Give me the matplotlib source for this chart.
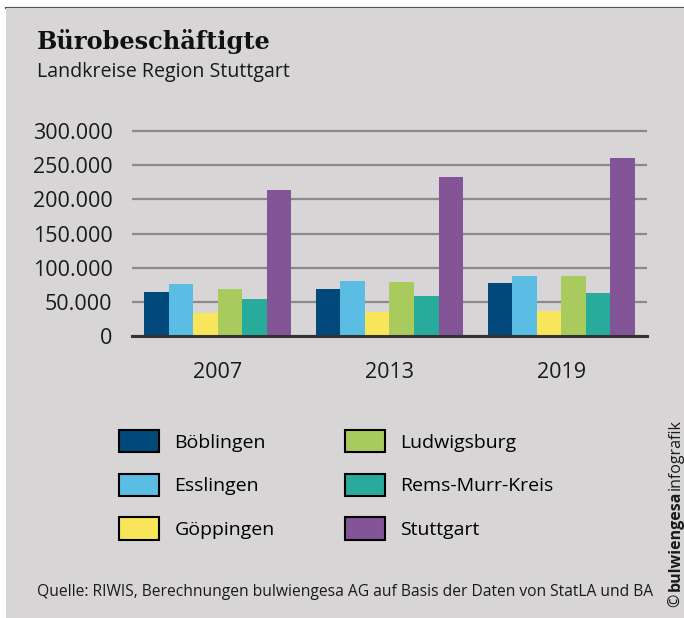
import matplotlib.pyplot as plt
import numpy as np
from matplotlib.patches import Rectangle
from matplotlib.lines import Line2D

# Daten
jahre = ['2007', '2013', '2019']
kreise = ['Böblingen', 'Esslingen', 'Göppingen', 'Ludwigsburg', 'Rems-Murr-Kreis', 'Stuttgart']
boeblingen = [64000, 69500, 77000]
esslingen = [75500, 80000, 88500]
goeppingen = [33500, 34500, 36500]
ludwigsburg = [69500, 78500, 88500]
rems_murr = [53500, 58000, 63500]
stuttgart = [214000, 233000, 260500]
werte = [boeblingen, esslingen, goeppingen, ludwigsburg, rems_murr, stuttgart]
farben = ['#00497a', '#5bbde4', '#f8e55a', '#a9ca5c', '#28ab9b', '#835597']
yticks = [0, 50000, 100000, 150000, 200000, 250000, 300000]
ytick_labels = ['0', '50.000', '100.000', '150.000', '200.000', '250.000', '300.000']

plt.rcParams['font.family'] = ['Open Sans', 'DejaVu Sans']
bg = '#d7d5d6'
W, H = 684, 618

fig = plt.figure(figsize=(6.84, 6.18), dpi=100)
fig.patch.set_facecolor('white')
# grauer Hintergrund + dunkle Linie oben
fig.patches.append(Rectangle((6 / W, 0), 1 - 6 / W, 1 - 8 / H, transform=fig.transFigure,
                             facecolor=bg, edgecolor='none', zorder=-1))
fig.lines.append(Line2D([6 / W, 1], [1 - 7.5 / H, 1 - 7.5 / H], transform=fig.transFigure,
                        color='#555555', linewidth=1.6, zorder=-1))

ymax = 303000
ax = fig.add_axes([132 / W, (H - 336) / H, 515 / W, 205 / H * ymax / 300000])
ax.set_facecolor(bg)

x = np.arange(len(jahre))
bw = 0.143
for i, (name, vals, col) in enumerate(zip(kreise, werte, farben)):
    ax.bar(x + (i - 2.5) * bw, vals, width=bw, color=col, label=name, zorder=3)

ax.set_xlim(-0.5, 2.5)
ax.set_ylim(0, ymax)
ax.set_yticks(yticks)
ax.set_yticklabels(ytick_labels)
ax.set_xticks(x)
ax.set_xticklabels(jahre)
ax.tick_params(axis='both', length=0, labelsize=15.5, colors='#1a1a1a')
ax.tick_params(axis='y', pad=14)
ax.tick_params(axis='x', pad=19)
ax.yaxis.grid(True, color='#8a8a8a', linewidth=1.6, zorder=1)
for s in ['top', 'right', 'left']:
    ax.spines[s].set_visible(False)
ax.spines['bottom'].set_color('#333333')
ax.spines['bottom'].set_linewidth(2.2)
ax.spines['bottom'].set_zorder(4)

# Legende
leg_handles = [Rectangle((0, 0), 1, 1, facecolor=c, edgecolor='black', linewidth=1.5) for c in farben]
fig.legend(leg_handles, kreise, loc='upper left', bbox_to_anchor=(119 / W, 1 - 430 / H),
           ncol=2, frameon=False, fontsize=14, handlelength=2.06, handleheight=1.39,
           handletextpad=0.8, labelspacing=1.1, columnspacing=3.6, borderpad=0,
           borderaxespad=0)

fig.text(37 / W, 1 - 49 / H, 'Bürobeschäftigte', family='DejaVu Serif', fontweight='bold',
         fontsize=17.3, color='#111111', va='baseline')
fig.text(37 / W, 1 - 72 / H, 'Landkreise Region Stuttgart', fontsize=14.1, color='#1a1a1a',
         va='center')
fig.text(37 / W, 1 - 592 / H, 'Quelle: RIWIS, Berechnungen bulwiengesa AG auf Basis der Daten von StatLA und BA',
         fontsize=11.25, color='#1a1a1a', va='center')

# Copyright-Vermerk, senkrecht
t1 = fig.text(676 / W, 1 - 607 / H, '©', rotation=90, fontsize=11.5, color='#1a1a1a',
              ha='center', va='bottom')
t2 = fig.text(0, 0, 'bulwiengesa', rotation=90, fontsize=11.5, fontweight='bold', color='#1a1a1a',
              ha='center', va='bottom')
t3 = fig.text(0, 0, 'infografik', rotation=90, fontsize=11.5, color='#1a1a1a',
              ha='center', va='bottom')
fig.canvas.draw()
r = fig.canvas.get_renderer()
b1 = t1.get_window_extent(r)
t2.set_position((676 / W, (b1.y1 + 3) / H))
fig.canvas.draw()
b2 = t2.get_window_extent(r)
t3.set_position((676 / W, b2.y1 / H))

fig.savefig('out.png', dpi=100, facecolor=fig.get_facecolor())
